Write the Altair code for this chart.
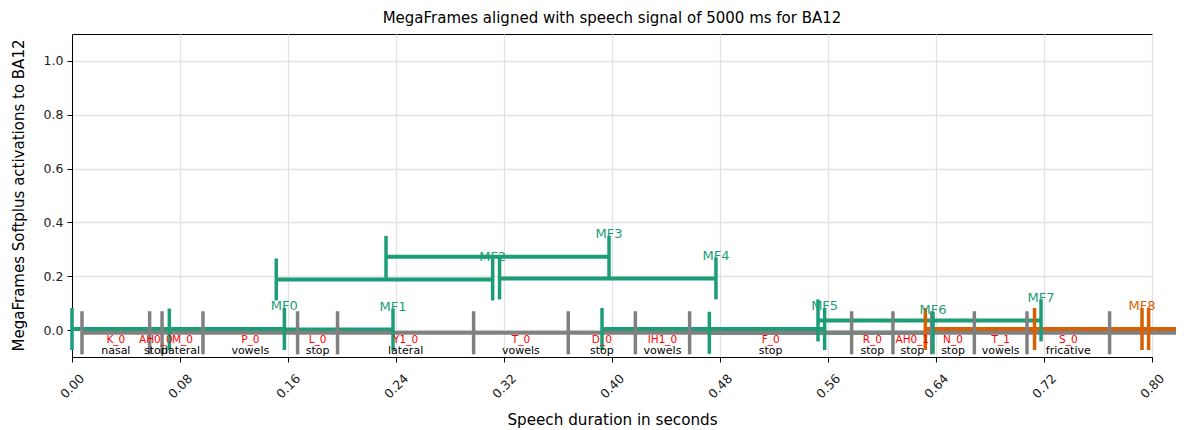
import altair as alt
import pandas as pd

TITLE = "MegaFrames aligned with speech signal of 5000 ms for BA12"
X_TITLE = "Speech duration in seconds"
Y_TITLE = "MegaFrames Softplus activations to BA12"

X_TICKS = [0.00, 0.08, 0.16, 0.24, 0.32, 0.40, 0.48, 0.56, 0.64, 0.72, 0.80]
Y_TICKS = [0.0, 0.2, 0.4, 0.6, 0.8, 1.0]
X_DOMAIN = [0.0, 0.8]
Y_DOMAIN = [-0.1, 1.1]
X_VISIBLE_END = 0.819  # where the lines running past the axes leave the figure

# phoneme segmentation (seconds)
PHONEME_BOUNDS = [0.0074, 0.0575, 0.0667, 0.0970, 0.1671, 0.1967, 0.2975, 0.3676,
                  0.4173, 0.4575, 0.5775, 0.6081, 0.6368, 0.6684, 0.7074, 0.7686]
PHONEMES = ["K_0", "AH0_0", "M_0", "P_0", "L_0", "Y1_0", "T_0", "D_0", "IH1_0",
            "F_0", "R_0", "AH0_1", "N_0", "T_1", "S_0"]
CLASSES = ["nasal", "stop", "lateral", "vowels", "stop", "lateral", "vowels", "stop",
           "vowels", "stop", "stop", "stop", "stop", "vowels", "fricative"]
PHONEME_LINE_Y = -0.01
RED_LABEL_Y = -0.035
CLASS_LABEL_Y = -0.078

# MegaFrames
MF_NAMES = ["MF0", "MF1", "MF2", "MF3", "MF4", "MF5", "MF6", "MF7", "MF8", "MF9", "MF10"]
MF_START = [0.0000, 0.0721, 0.1513, 0.2326, 0.3167, 0.3926, 0.4721, 0.5526, 0.6321, 0.7130, 0.7975]
MF_END = [0.1573, 0.2378, 0.3116, 0.3978, 0.4770, 0.5575, 0.6378, 0.7178, 0.7926, None, None]
MF_VALUE = [0.004, 0.002, 0.188, 0.272, 0.192, 0.004, -0.010, 0.036, 0.004, 0.004, 0.004]
MF_GROUP = ["A"] * 8 + ["B"] * 3
TICK_HALF = 0.078
LABEL_GAP = 0.085

GREEN = "#1b9e77"
ORANGE = "#d95f02"
GRAY = "#808080"
FONT = "DejaVu Sans"

color_scale = alt.Scale(domain=["A", "B"], range=[GREEN, ORANGE])

x_axis = alt.Axis(values=X_TICKS, format=".2f", labelAngle=-45, labelAlign="center",
                  labelBaseline="middle", labelPadding=24, tickSize=5, labelFontSize=12.5,
                  titleFontSize=15.2, titleFontWeight="normal", titleY=62, titleBaseline="middle",
                  gridColor="#e3e3e3", gridWidth=1.3, labelColor="#222222")
y_axis = alt.Axis(values=Y_TICKS, format=".1f", tickSize=5, labelPadding=4, labelFontSize=12.5,
                  titleFontSize=15, titleFontWeight="normal", titleX=-54, titleY=161,
                  titleAngle=-90, titleAlign="center", titleBaseline="middle",
                  gridColor="#e3e3e3", gridWidth=1.3, labelColor="#222222")
x_scale = alt.Scale(domain=X_DOMAIN, nice=False, zero=False)
y_scale = alt.Scale(domain=Y_DOMAIN, nice=False, zero=False)


def X(field):
    return alt.X(field, type="quantitative", scale=x_scale, axis=x_axis, title=X_TITLE)


def Y(field):
    return alt.Y(field, type="quantitative", scale=y_scale, axis=y_axis, title=Y_TITLE)


# --- data tables built from the arrays ---
mf = pd.DataFrame({"name": MF_NAMES, "start": MF_START, "end": MF_END,
                   "value": MF_VALUE, "group": MF_GROUP})
mf["has_end"] = mf["end"].notna()
mf["end_draw"] = mf["end"].fillna(X_VISIBLE_END)
mf["lo"] = mf["value"] - TICK_HALF
mf["hi"] = mf["value"] + TICK_HALF
mf["label_y"] = mf["value"] + LABEL_GAP

mf_ticks = pd.concat([
    mf[["start", "lo", "hi", "group"]].rename(columns={"start": "x"}),
    mf[mf["has_end"]][["end", "lo", "hi", "group"]].rename(columns={"end": "x"}),
])
mf_labels = mf[mf["has_end"]]

bounds = pd.DataFrame({"x": PHONEME_BOUNDS, "lo": PHONEME_LINE_Y - 0.08,
                       "hi": PHONEME_LINE_Y + 0.08})
segs = pd.DataFrame({
    "mid": [(PHONEME_BOUNDS[i] + PHONEME_BOUNDS[i + 1]) / 2 for i in range(len(PHONEMES))],
    "phoneme": PHONEMES, "cls": CLASSES,
    "py": RED_LABEL_Y, "cy": CLASS_LABEL_Y,
})
base_line = pd.DataFrame({"x": [PHONEME_BOUNDS[0]], "x2": [X_VISIBLE_END], "y": [PHONEME_LINE_Y]})

mf_lines = alt.Chart(mf).mark_rule(strokeWidth=4).encode(
    x=X("start"), x2="end_draw", y=Y("value"),
    color=alt.Color("group:N", scale=color_scale, legend=None))

gray_line = alt.Chart(base_line).mark_rule(strokeWidth=4, color=GRAY).encode(
    x=X("x"), x2="x2", y=Y("y"))

gray_ticks = alt.Chart(bounds).mark_rule(strokeWidth=3.5, color=GRAY).encode(
    x=X("x"), y=Y("lo"), y2="hi")

mf_tick_layer = alt.Chart(mf_ticks).mark_rule(strokeWidth=3.5).encode(
    x=X("x"), y=Y("lo"), y2="hi",
    color=alt.Color("group:N", scale=color_scale, legend=None))

ph_text = alt.Chart(segs).mark_text(color="#ff0000", fontSize=10.5, font=FONT,
                                    baseline="middle").encode(
    x=X("mid"), y=Y("py"), text="phoneme:N")

cls_text = alt.Chart(segs).mark_text(color="#000000", fontSize=11, font=FONT,
                                     baseline="middle").encode(
    x=X("mid"), y=Y("cy"), text="cls:N")

mf_text = alt.Chart(mf_labels).mark_text(fontSize=13, font=FONT, baseline="middle").encode(
    x=X("end"), y=Y("label_y"), text="name:N",
    color=alt.Color("group:N", scale=color_scale, legend=None))

chart = alt.layer(mf_lines, gray_line, gray_ticks, mf_tick_layer, ph_text, cls_text, mf_text).properties(
    width=1080, height=323,
    title=alt.TitleParams(TITLE, fontSize=15, font=FONT, fontWeight="normal", anchor="middle",
                          offset=8, color="#000000"),
    autosize=alt.AutoSizeParams(type="none"),
    padding={"left": 64, "top": 26, "right": 24, "bottom": 73},
).configure(font=FONT).configure_view(
    stroke="#000000", strokeWidth=1
).configure_axis(
    domainColor="#000000", tickColor="#000000", titleColor="#000000",
    labelFont=FONT, titleFont=FONT, grid=True
)

chart.save("out.html", embed_options={"renderer": "svg", "actions": False})
